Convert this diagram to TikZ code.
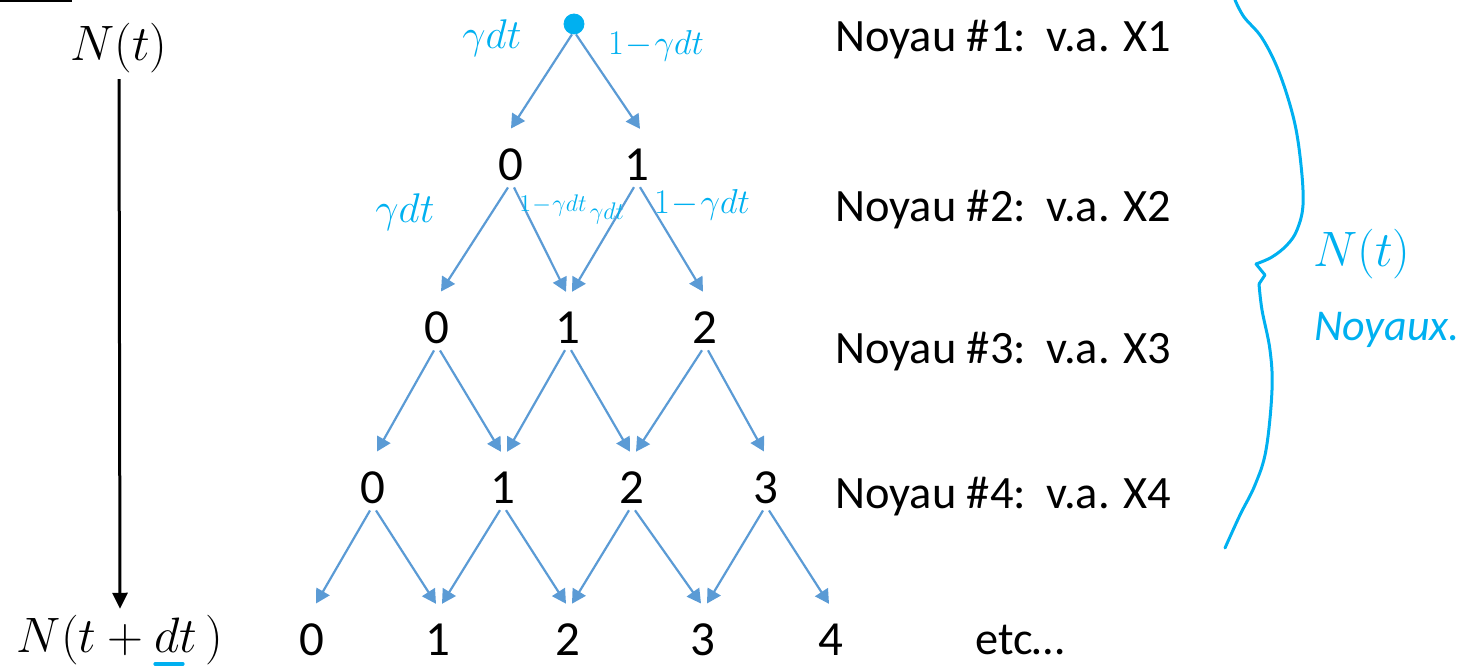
\documentclass[tikz,border=0pt]{standalone}
\usepackage[no-math]{fontspec}
\setmainfont{Carlito}
\usetikzlibrary{arrows.meta}
\definecolor{arrblue}{HTML}{5B9BD5}
\definecolor{ink}{HTML}{00B0F0}
\begin{document}
\begin{tikzpicture}[x=0.5pt,y=-0.5pt,
  num/.style={inner sep=0pt, font=\fontsize{24.5}{27}\selectfont},
  lab/.style={anchor=west, inner sep=0pt, font=\fontsize{23.2}{26}\selectfont},
  mathlab/.style={inner sep=0pt, font=\fontsize{26}{30}\selectfont},
  arr/.style={draw=arrblue, line width=1.1pt, -{Triangle[length=7pt,width=7.5pt]}},
  hand/.style={text=ink, inner sep=0pt},
  inkline/.style={draw=ink, line width=1.6pt, line cap=round, line join=round}]
\useasboundingbox (0,0) rectangle (1463,667);

% left time axis
\draw[line width=1.5pt] (0,1) -- (72,1);
\node[mathlab] (Nt) at (119,48) {$N(t)$};
\node[mathlab] (Ndt) at (120,640) {$N(t+dt\,)$};
\draw[line width=1.5pt, -{Triangle[length=8pt,width=7.5pt]}] ([yshift=-3pt]Nt.south) -- ([yshift=3pt]Ndt.north);
\draw[inkline] (155,664) -- (183,664);

% tree nodes
\node[circle, fill=ink, draw=ink, inner sep=0pt, minimum size=10pt] (top) at (574,24) {};
\node[num] (a0) at (511,165) {0};
\node[num] (a1) at (637,165) {1};
\node[num] (b0) at (437,328) {0};
\node[num] (b1) at (568,328) {1};
\node[num] (b2) at (705,328) {2};
\node[num] (c0) at (373,488) {0};
\node[num] (c1) at (503,488) {1};
\node[num] (c2) at (632,488) {2};
\node[num] (c3) at (766,488) {3};
\node[num] (d0) at (312,640) {0};
\node[num] (d1) at (438,640) {1};
\node[num] (d2) at (568,640) {2};
\node[num] (d3) at (703,640) {3};
\node[num] (d4) at (831,640) {4};

% arrows
\draw[arr] ([xshift=-1pt]top.south) -- ([yshift=10pt]a0.north);
\draw[arr] ([xshift=1pt]top.south) -- ([xshift=1.5pt,yshift=10pt]a1.north);
\foreach \p/\l/\r in {a0/b0/b1, a1/b1/b2, b0/c0/c1, b1/c1/c2, b2/c2/c3,
                      c0/d0/d1, c1/d1/d2, c2/d2/d3, c3/d3/d4}{
  \draw[arr] ([xshift=-1.5pt,yshift=-3pt]\p.south) -- ([xshift=2pt,yshift=10pt]\l.north);
  \draw[arr] ([xshift=1.5pt,yshift=-3pt]\p.south) -- ([xshift=-1pt,yshift=10pt]\r.north);
}

% labels
\node[lab] (L1) at (835,40) {Noyau \#1:\hspace{0.45em}v.a. X1};
\node[lab] (L2) at (835,210) {Noyau \#2:\hspace{0.45em}v.a. X2};
\node[lab] (L3) at (835,352) {Noyau \#3:\hspace{0.45em}v.a. X3};
\node[lab] (L4) at (835,497) {Noyau \#4:\hspace{0.45em}v.a. X4};
\node[lab] (etc) at (975,640) {etc…};

% handwritten annotations
\node[hand, font=\fontsize{22}{24}\selectfont] (h1) at (492,38) {$\gamma dt$};
\node[hand, font=\fontsize{18}{20}\selectfont] (h2) at (656,46) {$1\!-\!\gamma dt$};
\node[hand, font=\fontsize{22}{24}\selectfont] (h3) at (405,212) {$\gamma dt$};
\node[hand, font=\fontsize{11.5}{14}\selectfont] (h4) at (553,206) {$1\!-\!\gamma dt$};
\node[hand, font=\fontsize{13}{14}\selectfont] (h5) at (607,214) {$\gamma dt$};
\node[hand, font=\fontsize{16}{18}\selectfont] (h6) at (702,205) {$1\!-\!\gamma dt$};

% brace
\draw[inkline, line width=1.5pt] plot[smooth, tension=0.6] coordinates {
  (1235,0) (1244,17) (1262,38) (1279,72) (1294,120) (1301,165) (1303,205)
  (1297,230) (1287,245) (1272,257) (1256,264)};
\draw[inkline, line width=1.5pt] (1256,264) -- (1265,275) -- (1259,284);
\draw[inkline, line width=1.5pt] plot[smooth, tension=0.6] coordinates {
  (1259,284) (1262,310) (1270,350) (1272,390) (1266,450) (1255,485) (1240,515) (1225,548)};
\node[hand, font=\itshape\fontsize{24}{26}\selectfont] (h7) at (1362,254) {$N(t)$};
\node[hand, font=\itshape\fontsize{22}{24}\selectfont] (h8) at (1387,330) {\textit{Noyaux.}};
\end{tikzpicture}
\end{document}
